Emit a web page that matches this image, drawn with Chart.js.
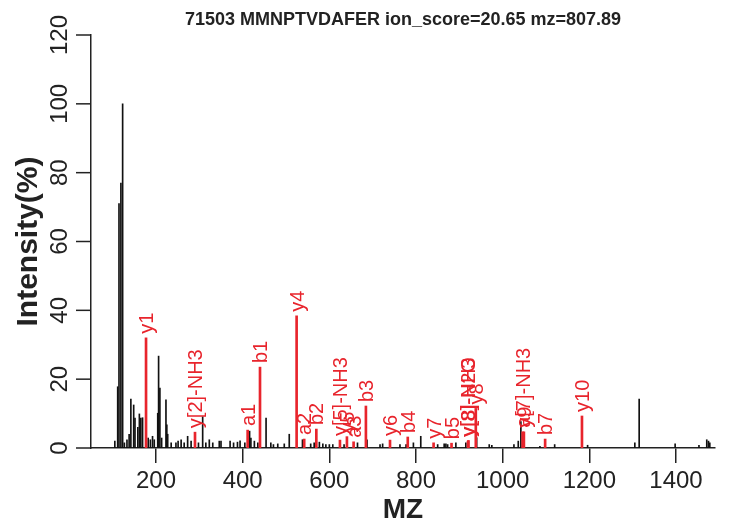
<!DOCTYPE html>
<html>
<head>
<meta charset="utf-8">
<script src="https://cdn.jsdelivr.net/npm/chart.js@4.4.0/dist/chart.umd.min.js"></script>
<style>
  body { margin: 0; background: #fff; }
  #wrap { width: 732px; height: 529px; position: relative; }
</style>
</head>
<body>
<div id="wrap"><canvas id="spectrum"></canvas></div>
<script>
// peaks: m/z and relative intensity (%)
const blackMz = [105, 111.6, 114.6, 119, 123, 127, 133, 138, 142, 148.5, 151.5, 158, 161.6, 165, 169,
    182, 187, 192, 196, 204, 206, 209, 213, 223, 225, 227, 235, 246, 251, 258, 265, 273, 281, 298,
    307.7, 315, 323, 331, 346, 350, 371, 379, 388, 394, 405, 416, 419, 427, 435, 454, 465, 471, 481,
    496, 507.5, 538, 557, 565, 577, 585, 592, 600, 608, 634, 665, 687, 717, 723, 763, 777, 794, 811,
    850, 865, 869, 873, 892, 915, 940, 969, 975, 1026, 1036, 1042, 1086, 1120, 1196, 1305, 1315,
    1398, 1453, 1471, 1475, 1478];
const blackIntensity = [2, 17.8, 71, 77, 100, 1.5, 2.4, 4, 14.2, 12.5, 8.7, 6, 9.9, 8.7, 8.8,
    2.9, 2.4, 3.4, 2.4, 10.1, 26.7, 17.4, 2.9, 14, 6.7, 4, 1.5, 1.5, 2, 2.4, 1.5, 3.4, 2, 1.5,
    9.1, 1.5, 2.4, 1.5, 2, 2, 2, 1.5, 1.7, 2.1, 1.5, 4.9, 2.9, 2, 1.5, 8.7, 1.5, 1, 1.2,
    1.2, 4, 2.4, 1.2, 1.5, 1.7, 1.2, 1, 1, 1, 1, 1.5, 2.4, 1, 1.2, 1, 1, 1.5, 3.4,
    1, 1.2, 1.2, 1, 1.5, 1.5, 3, 1, 0.8, 1, 2, 7.7, 0.5, 1, 0.8, 1.5, 14.2,
    1.2, 0.8, 2.4, 2, 1.5];

const redLabels = ['y1', 'y[2]-NH3', 'a1', 'b1', 'y4', 'a2', 'b2', 'y[5]-NH3', 'y5', 'a3', 'b3',
    'y6', 'b4', 'y7', 'b5', 'y[8]-H2O', 'y[8]-NH3', 'y8', 'a[7]-NH3', 'y9', 'b7', 'y10'];
const redMz = [177, 290, 411.5, 440, 524.5, 542, 570, 624.5, 640.6, 656, 684.4,
    740, 781, 840.6, 882, 920, 921, 938, 1046, 1049, 1098, 1183];
const redIntensity = [32, 4.6, 5.2, 23.5, 38.4, 2.6, 5.5, 2.3, 3.3, 1.8, 12.2,
    2.3, 3.2, 1.5, 1.4, 2.0, 2.2, 11.5, 4.7, 4.7, 2.6, 9.3];

const xTicks = [200, 400, 600, 800, 1000, 1200, 1400];
const yTicks = [0, 20, 40, 60, 80, 100, 120];

const FONT = "'Liberation Sans', Arial, Helvetica, sans-serif";
const RED = '#e8242c';
const INK = '#222';

// ion labels, written upward from the top of each red peak
const ionLabels = {
    id: 'ionLabels',
    afterDatasetsDraw(chart) {
        const ctx = chart.ctx;
        const x = chart.scales.x, y = chart.scales.y;
        ctx.save();
        ctx.fillStyle = RED;
        ctx.font = '20px ' + FONT;
        ctx.textAlign = 'left';
        ctx.textBaseline = 'alphabetic';
        redLabels.forEach((lab, i) => {
            const px = x.getPixelForValue(redMz[i]);
            const py = y.getPixelForValue(redIntensity[i]);
            ctx.save();
            ctx.translate(px + 7, py - 4);
            ctx.rotate(-Math.PI / 2);
            ctx.fillText(lab, 0, 0);
            ctx.restore();
        });
        ctx.restore();
    }
};

// y ticks: marks pointing left, labels running along the axis
const yAxisTicks = {
    id: 'yAxisTicks',
    afterDraw(chart) {
        const ctx = chart.ctx;
        const y = chart.scales.y;
        const left = chart.chartArea.left;
        ctx.save();
        ctx.strokeStyle = INK;
        ctx.lineWidth = 1.5;
        ctx.fillStyle = INK;
        ctx.font = '24px ' + FONT;
        ctx.textAlign = 'center';
        ctx.textBaseline = 'alphabetic';
        yTicks.forEach(v => {
            const py = y.getPixelForValue(v);
            ctx.beginPath();
            ctx.moveTo(left - 15, py);
            ctx.lineTo(left, py);
            ctx.stroke();
            ctx.save();
            ctx.translate(67, py);
            ctx.rotate(-Math.PI / 2);
            ctx.fillText(String(v), 0, 0);
            ctx.restore();
        });
        ctx.restore();
    }
};

new Chart(document.getElementById('spectrum'), {
    type: 'bar',
    data: {
        datasets: [{
            data: redMz.map((m, i) => ({x: m, y: redIntensity[i]})),
            backgroundColor: RED,
            barThickness: 2
        }, {
            data: blackMz.map((m, i) => ({x: m, y: blackIntensity[i]})),
            backgroundColor: '#111',
            barThickness: 1
        }]
    },
    options: {
        responsive: true,
        maintainAspectRatio: false,
        animation: false,
        devicePixelRatio: 1,
        grouped: false,
        layout: { padding: { left: 0, right: 17, top: 0, bottom: 0 } },
        plugins: {
            legend: { display: false },
            tooltip: { enabled: false },
            title: {
                display: true,
                fullSize: false,
                text: '71503 MMNPTVDAFER ion_score=20.65 mz=807.89',
                color: INK,
                font: { family: FONT, size: 18, weight: 'bold', lineHeight: 1.2 },
                padding: { top: 9, bottom: 4.4 }
            }
        },
        scales: {
            x: {
                type: 'linear',
                min: 50,
                max: 1490,
                offset: false,
                afterBuildTicks: s => { s.ticks = xTicks.map(v => ({value: v})); },
                afterFit: s => { s.height = 81; },
                grid: { display: true, offset: false, drawOnChartArea: false, drawTicks: true, tickLength: 15, color: INK, lineWidth: 1.5 },
                border: { display: true, color: INK, width: 1.5 },
                ticks: { color: INK, font: { family: FONT, size: 24 }, padding: 4, maxRotation: 0,
                         callback: v => String(v) },
                title: {
                    display: true, text: 'MZ', color: INK,
                    font: { family: FONT, size: 28, weight: 'bold', lineHeight: 1.2 },
                    padding: { top: 0, bottom: 2 }
                }
            },
            y: {
                min: 0,
                max: 120,
                afterBuildTicks: s => { s.ticks = yTicks.map(v => ({value: v})); },
                afterFit: s => { s.width = 91; },
                grid: { display: false },
                border: { display: true, color: INK, width: 1.5 },
                ticks: { display: false },
                title: {
                    display: true, text: 'Intensity(%)', color: INK,
                    font: { family: FONT, size: 30, weight: 'bold', lineHeight: 1.2 },
                    padding: { top: 11, bottom: 0 }
                }
            }
        }
    },
    plugins: [ionLabels, yAxisTicks]
});
</script>
</body>
</html>
